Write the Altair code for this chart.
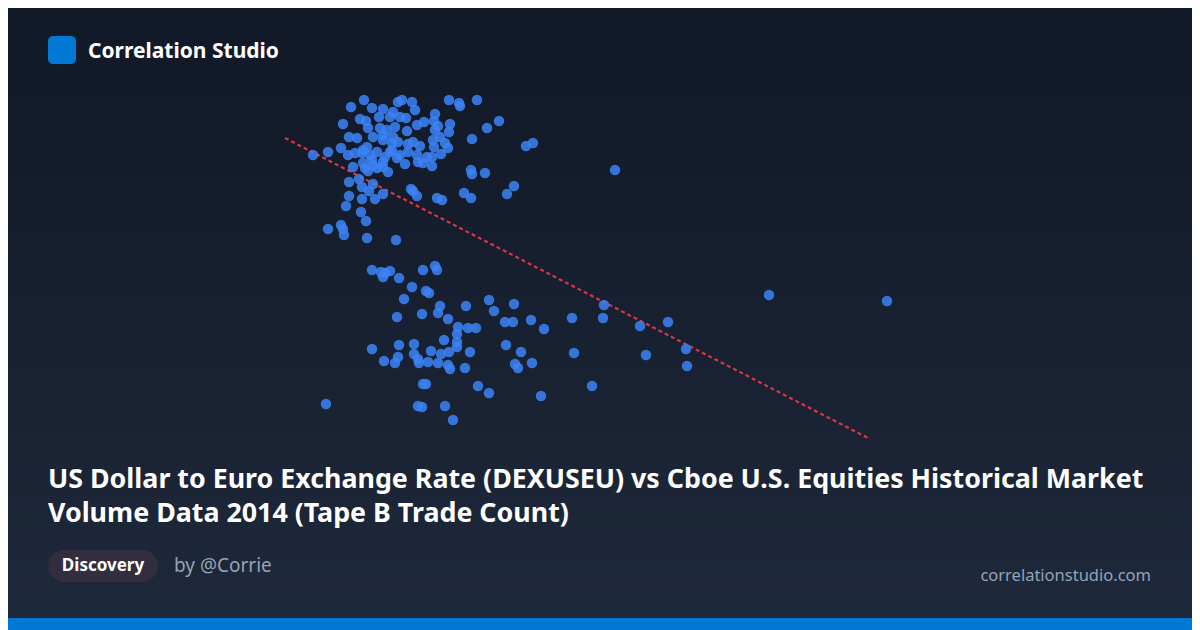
import altair as alt
import pandas as pd

# ---- data ----
# US Dollar to Euro exchange rate (x) and Tape B trade count, thousands (y)
rate = [
    1.182, 1.1755, 1.186, 1.201, 1.206, 1.199, 1.2075, 1.1915, 1.1965, 1.2245,
    1.2295, 1.23, 1.2385, 1.1715, 1.18, 1.183, 1.1895, 1.195, 1.203, 1.2175,
    1.212, 1.2085, 1.217, 1.219, 1.225, 1.2245, 1.2175, 1.2495, 1.2435, 1.236,
    1.2665, 1.263, 1.1745, 1.1785, 1.184, 1.19, 1.1935, 1.2035, 1.1865, 1.1915,
    1.1965, 1.199, 1.2065, 1.22, 1.2225, 1.224, 1.217, 1.21, 1.204, 1.1705,
    1.164, 1.174, 1.181, 1.1835, 1.185, 1.1885, 1.195, 1.2, 1.2085, 1.2135,
    1.216, 1.2205, 1.186, 1.1915, 1.1985, 1.2025, 1.209, 1.2115, 1.216, 1.1765,
    1.1825, 1.1885, 1.194, 1.184, 1.2355, 1.236, 1.2425, 1.1795, 1.1745, 1.1865,
    1.181, 1.1845, 1.1915, 1.1875, 1.1745, 1.181, 1.173, 1.2055, 1.2065, 1.2085,
    1.2185, 1.221, 1.232, 1.2355, 1.257, 1.2535, 1.1805, 1.183, 1.1705, 1.1715,
    1.172, 1.164, 1.1835, 1.198, 1.3075, 1.1565,
    1.2, 1.1975, 1.1915, 1.196, 1.2165, 1.1775, 1.1815, 1.1925, 1.196, 1.204,
    1.1815, 1.1865, 1.1915,
    1.186, 1.1905, 1.195, 1.1915, 1.1925, 1.1995, 1.2115, 1.2175, 1.2185, 1.206,
    1.213, 1.2145, 1.202, 1.2445, 1.257, 1.233, 1.22, 1.219, 1.211, 1.1985,
    1.224, 1.247, 1.2525, 1.2565, 1.2655, 1.272, 1.229, 1.234, 1.238, 1.2285,
    1.286, 1.3015, 1.302, 1.32, 1.334, 1.343, 1.3435, 1.323, 1.287, 1.296,
    1.2705, 1.186, 1.192, 1.1975, 1.1995, 1.199, 1.207, 1.207, 1.209, 1.2095,
    1.214, 1.2155, 1.219, 1.2205, 1.222, 1.2245, 1.224, 1.225, 1.2285, 1.2285,
    1.235, 1.2325, 1.253, 1.2605, 1.266, 1.2575, 1.259, 1.239, 1.2445, 1.2115,
    1.213, 1.209, 1.211, 1.2225, 1.2265, 1.163, 1.3845, 1.4435,
]
trades = [
    2500, 2465, 2460, 2500, 2490, 2490, 2450, 2455, 2440, 2500,
    2485, 2470, 2500, 2380, 2405, 2395, 2415, 2415, 2410, 2430,
    2390, 2375, 2395, 2370, 2380, 2340, 2350, 2395, 2360, 2305,
    2285, 2270, 2315, 2310, 2360, 2360, 2350, 2345, 2315, 2325,
    2315, 2290, 2290, 2315, 2285, 2260, 2265, 2270, 2280, 2260,
    2240, 2225, 2235, 2265, 2225, 2240, 2240, 2225, 2225, 2215,
    2215, 2230, 2200, 2190, 2210, 2180, 2190, 2185, 2170, 2165,
    2160, 2160, 2140, 2145, 2150, 2130, 2135, 2105, 2090, 2080,
    2065, 2045, 2030, 2005, 2020, 2005, 1970, 2055, 2045, 2020,
    2010, 2000, 2035, 2010, 2070, 2030, 1940, 1895, 1875, 1855,
    1825, 1855, 1810, 1800, 2150, 2225,
    2415, 2365, 2300, 2285, 2300, 2235, 2250, 2215, 2250, 2240,
    2185, 2175, 2165,
    1650, 1640, 1645, 1615, 1635, 1610, 1650, 1670, 1650, 1565,
    1545, 1535, 1505, 1500, 1480, 1470, 1470, 1435, 1430, 1415,
    1405, 1445, 1390, 1390, 1400, 1355, 1365, 1360, 1360, 1330,
    1410, 1410, 1475, 1370, 1390, 1255, 1170, 1225, 1235, 1070,
    1020, 1255, 1195, 1185, 1275, 1215, 1280, 1230, 1205, 1185,
    1190, 1245, 1185, 1230, 1300, 1240, 1175, 1155, 1290, 1265,
    1240, 1160, 1275, 1240, 1185, 1180, 1160, 1070, 1035, 1080,
    1080, 970, 965, 970, 900, 980, 1525, 1495,
]
trend_rate = [1.1425, 1.435]
trend_trades = [2310, 805]

title_lines = [
    "US Dollar to Euro Exchange Rate (DEXUSEU) vs Cboe U.S. Equities Historical Market",
    "Volume Data 2014 (Tape B Trade Count)",
]
brand = "Correlation Studio"
badge = "Discovery"
author = "by @Corrie"
site = "correlationstudio.com"

W, H = 1184, 622
FONT = "Noto Sans"

pts = pd.DataFrame({"rate": rate, "trades": trades})
trend = pd.DataFrame({"rate": trend_rate, "trades": trend_trades})
one = alt.Data(values=[{}])

# x: chart pixels 0..1184 <-> rate 1.004..1.596 ; y: chart pixels 622..0 <-> -150..2960
xs = alt.Scale(domain=[1.004, 1.596], nice=False, zero=False)
ys = alt.Scale(domain=[-150, 2960], nice=False, zero=False)

bg = alt.Chart(one).mark_rect(
    fill=alt.LinearGradient(
        gradient="linear",
        stops=[alt.GradientStop(color="#111827", offset=0),
               alt.GradientStop(color="#1e293b", offset=1)],
        x1=0, x2=0, y1=0, y2=1,
    )
).encode(x=alt.value(0), x2=alt.value(W), y=alt.value(0), y2=alt.value(H))

line = alt.Chart(trend).mark_line(
    color="#d9373f", strokeWidth=2.2, strokeDash=[4, 3]
).encode(
    x=alt.X("rate:Q", scale=xs, axis=None),
    y=alt.Y("trades:Q", scale=ys, axis=None),
)

dots = alt.Chart(pts).mark_circle(
    size=110, color="#3b82f6", opacity=0.85
).encode(
    x=alt.X("rate:Q", scale=xs, axis=None),
    y=alt.Y("trades:Q", scale=ys, axis=None),
)

logo = alt.Chart(one).mark_rect(color="#0078d4", cornerRadius=5).encode(
    x=alt.value(40), x2=alt.value(68), y=alt.value(28), y2=alt.value(56)
)
brand_t = alt.Chart(one).mark_text(
    text=brand, font=FONT, fontSize=21, fontWeight="bold", color="#ffffff",
    align="left", baseline="middle"
).encode(x=alt.value(80), y=alt.value(44))

t1 = alt.Chart(one).mark_text(
    text=title_lines[0], font=FONT, fontSize=26.8, fontWeight="bold", color="#ffffff",
    align="left", baseline="alphabetic"
).encode(x=alt.value(40), y=alt.value(480))
t2 = alt.Chart(one).mark_text(
    text=title_lines[1], font=FONT, fontSize=26.8, fontWeight="bold", color="#ffffff",
    align="left", baseline="alphabetic"
).encode(x=alt.value(40), y=alt.value(514))

pill = alt.Chart(one).mark_rect(color="#322e3e", cornerRadius=16).encode(
    x=alt.value(40), x2=alt.value(150), y=alt.value(542), y2=alt.value(574)
)
pill_t = alt.Chart(one).mark_text(
    text=badge, font=FONT, fontSize=17, fontWeight="bold", color="#ffffff",
    align="center", baseline="middle"
).encode(x=alt.value(95), y=alt.value(558))
author_t = alt.Chart(one).mark_text(
    text=author, font=FONT, fontSize=19, color="#94a3b8",
    align="left", baseline="middle"
).encode(x=alt.value(166), y=alt.value(558))
site_t = alt.Chart(one).mark_text(
    text=site, font=FONT, fontSize=16.5, color="#94a3b8",
    align="right", baseline="middle"
).encode(x=alt.value(1143), y=alt.value(568))
bar = alt.Chart(one).mark_rect(color="#0078d4").encode(
    x=alt.value(0), x2=alt.value(W), y=alt.value(610), y2=alt.value(H)
)

chart = alt.layer(
    bg, line, dots, logo, brand_t, t1, t2, pill, pill_t, author_t, site_t, bar
).properties(
    width=W, height=H, padding=0, autosize=alt.AutoSizeParams(type="none"),
    background="#111827",
).configure_view(stroke=None)

chart.save("out.html", embed_options={"renderer": "svg", "actions": False})
